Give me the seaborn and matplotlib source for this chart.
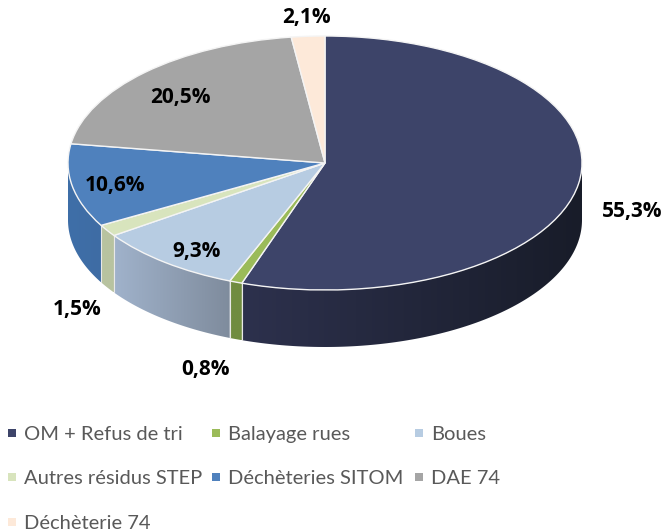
import numpy as np
import matplotlib
matplotlib.use("Agg")
import matplotlib.pyplot as plt
from matplotlib.colors import to_rgb
from matplotlib.lines import Line2D
from matplotlib.patches import Polygon
import seaborn as sns

#Chart data
categories = ["OM + Refus de tri", "Balayage rues", "Boues", "Autres résidus STEP",
              "Déchèteries SITOM", "DAE 74", "Déchèterie 74"]
values = [55.3, 0.8, 9.3, 1.5, 10.6, 20.5, 2.1]
value_labels = ["55,3%", "0,8%", "9,3%", "1,5%", "10,6%", "20,5%", "2,1%"]
top_colors = ["#3d4469", "#9bbb59", "#b7cce2", "#d8e4bd", "#4f81bd", "#a5a5a5", "#fde9d9"]
# side wall colours, at the start and end of each slice going clockwise
wall_start = ["#181c29", "#708c40", "#7f8c9d", "#b8c3a0", "#3f6ca4", "#777777", "#c8b8ac"]
wall_end = ["#2d314d", "#708c40", "#a0b2cb", "#b8c3a0", "#3e6fa8", "#777777", "#c8b8ac"]
# label centres in pixels from the top left
label_px = [(632, 211), (205, 369), (197, 251), (77, 309), (115, 186), (180, 97), (306, 17)]

#Geometry of the disc, in pixels
W, H = 665, 532
CX, CY, RX, RY, DEPTH = 325, 163, 257, 127, 57

sns.set_theme(style="white")
plt.rcParams['font.family'] = ['Lato', 'DejaVu Sans']

fig = plt.figure(figsize=(W / 100, H / 100), dpi=100)
ax = fig.add_axes([0, 0, 1, 1])

palette = sns.color_palette(top_colors)
wedges, _ = ax.pie(values, colors=palette, startangle=90, counterclock=False,
                   wedgeprops={'edgecolor': '#f4f4f4', 'linewidth': 1.0, 'zorder': 3})

#Side wall: a horizontal gradient clipped to the front part of each slice
depth = DEPTH / RY
shares = np.array(values) / sum(values) * 360
edges = np.concatenate([[0], np.cumsum(shares)])
for i in range(len(values)):
    a0, a1 = max(edges[i], 90), min(edges[i + 1], 270)
    if a0 >= a1:
        continue
    tt = np.radians(np.linspace(a0, a1, 120))
    x, y = np.sin(tt), np.cos(tt)
    shape = Polygon(np.c_[np.r_[x, x[::-1]], np.r_[y, y[::-1] - depth]],
                    closed=True, transform=ax.transData, fc='none', ec='none')
    ax.add_patch(shape)
    # a0 is the right end of the slice, a1 the left end
    grad = np.linspace(to_rgb(wall_end[i]), to_rgb(wall_start[i]), 128)[np.newaxis, :, :]
    img = ax.imshow(grad, extent=(x.min(), x.max(), y.min() - depth, y.max()),
                    aspect='auto', zorder=1, interpolation='bilinear')
    img.set_clip_path(shape)
    # pale seam between neighbouring slices
    if 90 < edges[i + 1] < 270:
        t = np.radians(edges[i + 1])
        ax.plot([np.sin(t)] * 2, [np.cos(t), np.cos(t) - depth],
                color='#e8e8e8', lw=0.8, zorder=2)

ax.set_aspect('auto')
ax.set_xlim(-CX / RX, (W - CX) / RX)
ax.set_ylim(-(H - CY) / RY, CY / RY)

#Value labels
for lab, (px, py) in zip(value_labels, label_px):
    fig.text(px / W, 1 - py / H, lab, ha='center', va='center',
             fontsize=15, fontweight='bold', color='black', family='Open Sans')

#Legend, one per column so the columns sit where the reference has them
handles = [Line2D([], [], ls='none', marker='s', ms=5.2, mew=0, color=c) for c in palette]
columns = [[0, 3, 6], [1, 4], [2, 5]]
column_px = [6.5, 210.5, 413.5]
for col, px in zip(columns, column_px):
    leg = fig.legend([handles[i] for i in col], [categories[i] for i in col],
                     loc='upper left', bbox_to_anchor=(px / W, 1 - 426 / H),
                     frameon=False, fontsize=14.5, labelcolor='#595959',
                     handlelength=0.55, handletextpad=0.32,
                     labelspacing=1.35, borderaxespad=0, borderpad=0)

fig.savefig("out.png", dpi=100, facecolor='white')
